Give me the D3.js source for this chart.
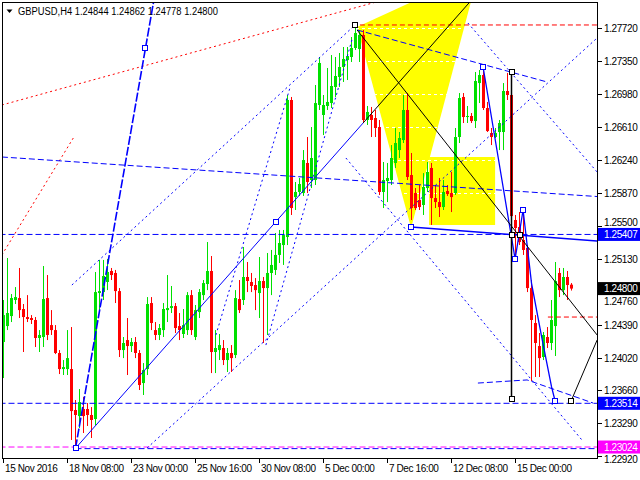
<!DOCTYPE html>
<html><head><meta charset="utf-8">
<script src="https://cdn.jsdelivr.net/npm/d3@7"></script>
<style>body{margin:0;background:#fff}svg{display:block}text{font-family:"Liberation Sans",Arial,sans-serif;font-size:10px}</style>
</head><body>
<svg id="c" width="640" height="480"></svg>
<script>
const opens=[1.24201,1.24380,1.24492,1.24672,1.24694,1.24571,1.24481,1.24470,1.24448,1.24246,1.24257,1.24694,1.24391,1.24335,1.24078,1.23898,1.23898,1.23898,1.23439,1.23371,1.23450,1.23450,1.23383,1.23338,1.24750,1.24761,1.24874,1.24997,1.24975,1.24772,1.24111,1.24223,1.24156,1.24201,1.24078,1.23741,1.23898,1.24638,1.24335,1.24280,1.24335,1.24559,1.24582,1.24604,1.24380,1.24291,1.24335,1.24727,1.24257,1.24537,1.24727,1.24851,1.24997,1.24089,1.24111,1.24134,1.23999,1.24078,1.24055,1.24683,1.24672,1.24930,1.24874,1.24840,1.24750,1.24885,1.24806,1.24975,1.25009,1.25177,1.25288,1.25378,1.26914,1.25826,1.25883,1.25871,1.26208,1.26017,1.26017,1.26858,1.26746,1.26847,1.26880,1.27060,1.27172,1.27284,1.27362,1.27396,1.27497,1.27486,1.27643,1.26690,1.26746,1.26712,1.26611,1.25883,1.26006,1.26017,1.26208,1.26353,1.26465,1.26802,1.26073,1.25871,1.25793,1.25737,1.25927,1.26152,1.25815,1.25770,1.25714,1.25894,1.25871,1.25871,1.26499,1.26948,1.26723,1.26735,1.26678,1.27104,1.27194,1.26824,1.26544,1.26499,1.26555,1.26555,1.27015,1.26970,1.25569,1.25490,1.25345,1.25255,1.24806,1.24414,1.24156,1.24033,1.24257,1.24190,1.24380,1.24975,1.24783,1.24930,1.24844];
const highs=[1.24672,1.25143,1.24739,1.24817,1.25031,1.24627,1.24727,1.24503,1.24481,1.24335,1.25053,1.24952,1.24559,1.24391,1.24111,1.23999,1.24335,1.24369,1.23551,1.23674,1.23584,1.23517,1.23472,1.24986,1.25121,1.25121,1.25132,1.25031,1.25009,1.24806,1.24257,1.24470,1.24246,1.24257,1.24111,1.23965,1.24705,1.24705,1.24425,1.24403,1.24638,1.24952,1.24829,1.24638,1.24526,1.24571,1.24761,1.24783,1.24616,1.24795,1.24896,1.25322,1.25165,1.24335,1.24291,1.24223,1.24134,1.24167,1.24783,1.24896,1.25266,1.25098,1.24975,1.24918,1.25154,1.24930,1.25199,1.25233,1.25423,1.25457,1.25457,1.26970,1.26948,1.25995,1.26040,1.26353,1.26499,1.26611,1.27082,1.27396,1.26970,1.27273,1.27418,1.27396,1.27441,1.27508,1.27508,1.27620,1.27744,1.27688,1.27699,1.26847,1.26836,1.26802,1.26690,1.26219,1.26208,1.26409,1.26600,1.26555,1.26970,1.26992,1.26320,1.25927,1.25961,1.26095,1.26219,1.26208,1.25961,1.26040,1.26017,1.25961,1.26107,1.26600,1.26992,1.26992,1.26847,1.26768,1.27228,1.27250,1.27295,1.26892,1.26600,1.26600,1.26690,1.27104,1.27217,1.27048,1.25625,1.25658,1.25681,1.25288,1.24896,1.24503,1.24302,1.24313,1.24369,1.24672,1.25098,1.25031,1.25031,1.24997,1.24862];
const lows=[1.23797,1.24335,1.24425,1.24627,1.24470,1.24089,1.24425,1.24403,1.24145,1.24089,1.24145,1.24223,1.24280,1.24066,1.23842,1.23831,1.23831,1.23103,1.23024,1.23237,1.23181,1.23260,1.23125,1.23271,1.24526,1.24672,1.24783,1.24896,1.24638,1.24033,1.24021,1.23831,1.24089,1.24021,1.23663,1.23607,1.23831,1.24335,1.24223,1.24223,1.24257,1.24425,1.24526,1.24302,1.24223,1.24246,1.24280,1.24280,1.24223,1.24470,1.24672,1.24783,1.23853,1.23853,1.23999,1.23943,1.23865,1.23865,1.24021,1.24526,1.24616,1.24761,1.24761,1.24559,1.24470,1.24190,1.24280,1.24727,1.24952,1.25087,1.25065,1.25288,1.25625,1.25681,1.25838,1.25838,1.25871,1.25927,1.25961,1.26802,1.26521,1.26802,1.26824,1.26948,1.27060,1.27116,1.27138,1.27340,1.27475,1.27340,1.26667,1.26634,1.26499,1.26499,1.25849,1.25703,1.25770,1.25961,1.26152,1.26264,1.26432,1.26017,1.25569,1.25681,1.25681,1.25625,1.25883,1.25513,1.25703,1.25602,1.25681,1.25838,1.25658,1.25849,1.26432,1.26656,1.26656,1.26656,1.26600,1.26880,1.26802,1.26555,1.26409,1.26488,1.26353,1.26353,1.26914,1.25457,1.25165,1.25288,1.25177,1.24761,1.23764,1.23809,1.23809,1.23999,1.24134,1.24111,1.24044,1.24705,1.24727,1.24672,1.24778];
const closes=[1.24503,1.24526,1.24694,1.24705,1.24559,1.24481,1.24459,1.24448,1.24246,1.24280,1.24683,1.24280,1.24335,1.24078,1.23898,1.23920,1.24021,1.23427,1.23383,1.23528,1.23371,1.23383,1.23327,1.24761,1.24772,1.24941,1.24986,1.24952,1.24772,1.24111,1.24190,1.24156,1.24201,1.24078,1.23719,1.23887,1.24627,1.24414,1.24280,1.24358,1.24571,1.24582,1.24604,1.24358,1.24335,1.24391,1.24727,1.24335,1.24559,1.24761,1.24862,1.24997,1.24089,1.24134,1.24167,1.23999,1.24078,1.24021,1.24694,1.24559,1.24930,1.24885,1.24829,1.24783,1.24885,1.24806,1.24975,1.25065,1.25177,1.25311,1.25400,1.26914,1.25703,1.25883,1.25972,1.26241,1.25995,1.26264,1.26880,1.27329,1.26858,1.26892,1.27071,1.27183,1.27284,1.27374,1.27407,1.27497,1.27665,1.27643,1.26690,1.26780,1.26690,1.26600,1.25883,1.26017,1.26040,1.26264,1.26432,1.26488,1.26802,1.26051,1.25703,1.25703,1.25714,1.25939,1.26107,1.25815,1.25770,1.25714,1.25883,1.25860,1.25826,1.26499,1.26936,1.26723,1.26735,1.26678,1.27127,1.27194,1.26824,1.26566,1.26499,1.26544,1.26656,1.27015,1.26970,1.25613,1.25479,1.25322,1.25233,1.24806,1.24448,1.24190,1.24021,1.24280,1.24190,1.24448,1.24885,1.24783,1.24930,1.24840,1.24800];

const yTicks=[1.27720,1.27350,1.26980,1.26610,1.26240,1.25870,1.25500,1.25130,1.24760,1.24390,1.24020,1.23660,1.23290,1.22920];
const xTickIndex=[0,16,32,48,64,80,96,112,128];
const xTickLabels=["15 Nov 2016","18 Nov 08:00","23 Nov 00:00","25 Nov 16:00","30 Nov 08:00","5 Dec 00:00","7 Dec 16:00","12 Dec 08:00","15 Dec 00:00"];
const titleText="GBPUSD,H4  1.24844 1.24862 1.24778 1.24800";
const lastPrice=1.24800;
const levelBlue=[1.25407,1.23514];
const levelMagenta=[1.23024];

// annotation anchors: [bar index, price]
const yellowTriangle=[[88.4,1.27732],[118.9,1.28360],[101.9,1.25479]];
const yellowRect=[[106.4,1.26275],[122.9,1.25513]];
const redDotted1=[[-0.4,1.26858],[94.1,1.28024]];
const redDotted2=[[-0.4,1.25177],[17.6,1.26499]];
const redDashTop=[[89.1,1.27755],[148.4,1.27755]];
const redDashLow=[[136.1,1.24481],[148.4,1.24481]];
const blueSteep=[[18,1.23010],[37.6,1.28035]];
const blueThin=[[18,1.23010],[89.9,1.26656]];
const blueLowLine=[[18,1.23006],[148.4,1.23006]];
const blackA=[[89.9,1.26656],[117.9,1.28080]];
const blackB=[[88.4,1.27699],[148.4,1.24280]];
const blackC=[[141.9,1.23540],[148.4,1.24223]];
const blackV=[[127,1.27228],[127,1.23562]];
const dotted=[
 [[17.1,1.24840],[87.9,1.27755]],
 [[35.9,1.23013],[148.4,1.27609]],
 [[116.1,1.27777],[148.4,1.26107]],
 [[53.1,1.24280],[71.6,1.27048]],
 [[65.6,1.24167],[87.1,1.27587]],
 [[85.6,1.26264],[144.6,1.23103]]
];
const dashed=[
 [[-0.4,1.26275],[148.4,1.25832]],
 [[88.4,1.27699],[135.9,1.27116]],
 [[118.6,1.23741],[130.9,1.23776],[147.4,1.23517]]
];
const blueSolid=[[101.9,1.25490],[148.4,1.25334]];
const zigzag=[[119.9,1.27284],[127.9,1.25132],[129.9,1.25681],[132.0,1.24862],[134.5,1.24268],[137.0,1.23700],[137.9,1.23540]];
const blueSquares=[[18,1.23010],[35.4,1.27497],[68,1.25550],[101.9,1.25490],[119.9,1.27284],[127.9,1.25132],[129.9,1.25681],[137.9,1.23540]];
const blackSquares=[[88.0,1.27755],[127,1.27228],[127,1.23562],[127,1.25400],[129,1.25400],[141.9,1.23540]];

const svg=d3.select("#c");
const L=2,T=2,R=597,B=458;
const x=d3.scaleLinear().domain([0,142]).range([3.5,571.5]);
const y=d3.scaleLinear().domain([1.2292,1.2772]).range([456.3,28.1]);
const GREEN="#00e000",RED="#ff0000",BLUE="#0000ff";

svg.append("rect").attr("width",640).attr("height",480).attr("fill","#fff");
svg.append("clipPath").attr("id","pc").append("rect").attr("x",L).attr("y",T).attr("width",R-L).attr("height",B-T);
const g=svg.append("g").attr("clip-path","url(#pc)");
const line=d3.line().x(d=>x(d[0])).y(d=>y(d[1]));

// yellow shapes
g.append("path").attr("d",line(yellowTriangle)+"Z").attr("fill","#ffff00");
g.append("rect").attr("x",x(yellowRect[0][0])).attr("y",y(yellowRect[0][1]))
 .attr("width",x(yellowRect[1][0])-x(yellowRect[0][0])).attr("height",y(yellowRect[1][1])-y(yellowRect[0][1])).attr("fill","#ffff00");
// grid (white dashed)
g.selectAll(".grid").data(yTicks).join("line").attr("x1",L).attr("x2",R)
 .attr("y1",d=>Math.round(y(d))+0.5).attr("y2",d=>Math.round(y(d))+0.5)
 .attr("stroke","#fff").attr("stroke-dasharray","3,3");

// candles
const idx=d3.range(opens.length);
g.selectAll(".wick").data(idx).join("line")
 .attr("x1",i=>x(i)).attr("x2",i=>x(i)).attr("y1",i=>y(highs[i])).attr("y2",i=>y(lows[i]))
 .attr("stroke",i=>closes[i]>=opens[i]?GREEN:RED).attr("stroke-width",1);
g.selectAll(".body").data(idx).join("rect")
 .attr("x",i=>x(i)-1.5).attr("width",3)
 .attr("y",i=>y(Math.max(opens[i],closes[i])))
 .attr("height",i=>Math.max(1,Math.abs(y(opens[i])-y(closes[i]))))
 .attr("fill",i=>closes[i]>=opens[i]?GREEN:RED);

// lines
function draw(pts,color,dash,w){g.append("path").attr("d",line(pts)).attr("fill","none").attr("stroke",color)
 .attr("stroke-width",w||1).attr("stroke-dasharray",dash||null);}
draw(redDotted1,RED,"2,3");
draw(redDotted2,RED,"2,3");
draw(redDashTop,RED,"5,3");
draw(redDashLow,RED,"5,3");
levelBlue.forEach(v=>draw([[-1,v],[150,v]],BLUE,"6,3"));
levelMagenta.forEach(v=>draw([[-1,v],[150,v]],"#ff00ff","6,3"));
draw(blueLowLine,BLUE,"6,3");
dotted.forEach(p=>draw(p,BLUE,"2,3"));
dashed.forEach(p=>draw(p,BLUE,"6,3"));
draw(blueSteep,BLUE,"9,2",1.6);
draw(blueThin,BLUE,null,1);
draw(blueSolid,BLUE,null,1.4);
draw(zigzag,BLUE,null,1.3);
draw(blackA,"#000",null,1);
draw(blackB,"#000",null,1);
draw(blackC,"#000",null,1);
draw(blackV,"#000",null,1.5);
function sq(pts,color){g.selectAll(null).data(pts).join("rect")
 .attr("x",d=>Math.round(x(d[0]))-2.5).attr("y",d=>Math.round(y(d[1]))-2.5).attr("width",5).attr("height",5)
 .attr("fill","#fff").attr("stroke",color).attr("stroke-width",1);}
sq(blueSquares,BLUE);
sq(blackSquares,"#000");

// frame
svg.append("rect").attr("x",L+0.5).attr("y",T+0.5).attr("width",R-L).attr("height",B-T)
 .attr("fill","none").attr("stroke","#000");

// y axis: price boxes sit on top; tick labels that a box would cover are nudged clear of it
const boxes=[...levelBlue,...levelMagenta,lastPrice];
const ya=svg.append("g");
yTicks.forEach(v=>{const yy=Math.round(y(v))+0.5;
 ya.append("line").attr("x1",R+1).attr("x2",R+5).attr("y1",yy).attr("y2",yy).attr("stroke","#000");
 let ty=yy+3.5;
 boxes.forEach(b=>{const by=y(b); if(Math.abs(by-yy)<12){ ty = yy<by ? by-8 : by+16; }});
 ya.append("text").attr("x",604).attr("y",ty).attr("letter-spacing","-0.4").attr("fill","#000").text(v.toFixed(5));});
function box(v,color){const yy=y(v);
 ya.append("rect").attr("x",598).attr("y",yy-6.5).attr("width",42).attr("height",13).attr("fill",color);
 ya.append("text").attr("x",604).attr("y",yy+3.5).attr("letter-spacing","-0.4").attr("fill","#fff").text(v.toFixed(5));}
levelBlue.forEach(v=>box(v,BLUE));
levelMagenta.forEach(v=>box(v,"#ff00ff"));
box(lastPrice,"#000");

// x axis
const xa=svg.append("g");
xTickIndex.forEach((t,k)=>{const xx=Math.round(x(t))-0.5;
 xa.append("line").attr("x1",xx).attr("x2",xx).attr("y1",B).attr("y2",B+5).attr("stroke","#000");
 xa.append("text").attr("x",xx+1.5).attr("y",472).attr("letter-spacing","-0.4").attr("fill","#000").text(xTickLabels[k]);});

// title
svg.append("path").attr("d","M6.5,9.5L12.5,9.5L9.5,13Z").attr("fill","#000");
svg.append("text").attr("x",18).attr("y",14.5).attr("textLength",200).attr("lengthAdjust","spacingAndGlyphs").attr("fill","#000").text(titleText);
</script>
</body></html>
